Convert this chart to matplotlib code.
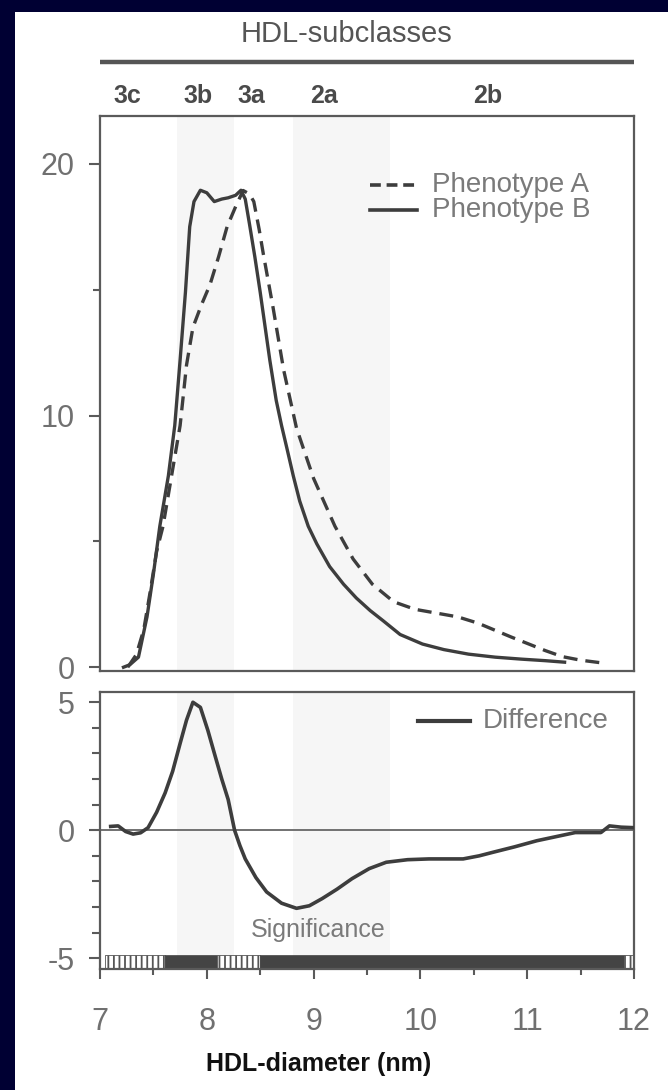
import numpy as np
import matplotlib
matplotlib.use("Agg")
import matplotlib.pyplot as plt
from matplotlib.patches import Rectangle
import matplotlib.transforms as mtransforms

plt.rcParams['font.family'] = ['Liberation Sans', 'DejaVu Sans']
plt.rcParams['axes.unicode_minus'] = False
plt.rcParams['hatch.linewidth'] = 1.3

# HDL size distribution, phenotype A (dashed) and B (solid)
pheno_a_x = [7.26, 7.34, 7.41, 7.47, 7.53, 7.59, 7.67, 7.75, 7.81, 7.87, 7.95, 8.03,
             8.11, 8.19, 8.27, 8.34, 8.40, 8.44, 8.49, 8.53, 8.62, 8.72, 8.84, 9.00,
             9.20, 9.37, 9.55, 9.75, 9.95, 10.15, 10.35, 10.54, 10.85, 11.17, 11.33,
             11.50, 11.74]
pheno_a_y = [0.0, 0.5, 1.5, 3.0, 4.6, 5.6, 7.6, 9.6, 12.0, 13.5, 14.4, 15.2,
             16.3, 17.5, 18.3, 18.94, 18.8, 18.5, 17.4, 16.4, 14.3, 11.8, 9.5, 7.5,
             5.6, 4.3, 3.3, 2.6, 2.3, 2.15, 2.0, 1.75, 1.2, 0.66, 0.42,
             0.28, 0.15]

pheno_b_x = [7.22, 7.28, 7.36, 7.44, 7.50, 7.56, 7.64, 7.70, 7.75, 7.80, 7.84, 7.88,
             7.94, 8.00, 8.07, 8.14, 8.20, 8.27, 8.32, 8.36, 8.40, 8.45, 8.50, 8.55,
             8.59, 8.65, 8.70, 8.75, 8.81, 8.87, 8.95, 9.03, 9.15, 9.28, 9.40, 9.53,
             9.65, 9.81, 10.02, 10.22, 10.45, 10.70, 10.95, 11.17, 11.35]
pheno_b_y = [0.0, 0.1, 0.4, 2.0, 3.7, 5.6, 7.6, 9.6, 12.2, 14.9, 17.5, 18.5,
             18.95, 18.85, 18.5, 18.6, 18.65, 18.75, 18.95, 18.6, 17.6, 16.3, 14.9, 13.4,
             12.2, 10.6, 9.6, 8.7, 7.6, 6.6, 5.6, 4.9, 4.0, 3.3, 2.75, 2.25,
             1.85, 1.3, 0.92, 0.7, 0.52, 0.4, 0.32, 0.26, 0.2]

# difference curve
diff_x = [7.10, 7.17, 7.24, 7.31, 7.38, 7.45, 7.53, 7.61, 7.68, 7.75, 7.81, 7.87,
          7.94, 8.01, 8.08, 8.14, 8.20, 8.26, 8.31, 8.36, 8.46, 8.56, 8.70, 8.84,
          8.96, 9.08, 9.22, 9.36, 9.52, 9.68, 9.88, 10.08, 10.24, 10.40, 10.55,
          10.68, 10.88, 11.09, 11.27, 11.45, 11.60, 11.69, 11.77, 11.88, 12.0]
diff_y = [0.15, 0.17, -0.05, -0.15, -0.1, 0.1, 0.7, 1.46, 2.3, 3.39, 4.3, 5.0,
          4.8, 3.9, 2.87, 2.0, 1.2, 0.0, -0.6, -1.12, -1.85, -2.41, -2.85, -3.05,
          -2.95, -2.67, -2.3, -1.89, -1.5, -1.25, -1.15, -1.12, -1.12, -1.12, -1.0,
          -0.86, -0.65, -0.41, -0.25, -0.09, -0.09, -0.09, 0.17, 0.12, 0.1]

# significance bar segments
sig_start = [7.05, 7.61, 8.10, 8.50, 11.91]
sig_end = [7.61, 8.10, 8.50, 11.91, 12.0]
sig_flag = [False, True, False, True, False]

# HDL subclass labels and shaded bands
subclass_names = ['3c', '3b', '3a', '2a', '2b']
subclass_pos = [7.26, 7.92, 8.42, 9.10, 10.63]
band_start = [7.72, 8.81]
band_end = [8.25, 9.72]

NAVY = '#000033'
LINE = '#3d3d3d'
SPINE = '#5a5a5a'
TICKTXT = '#707070'
LEGTXT = '#7a7a7a'

fig = plt.figure(figsize=(6.68, 10.90), dpi=100, facecolor=NAVY)
fig.patches.append(Rectangle((15/668, 0), 1 - 15/668, 1 - 12/1090,
                             transform=fig.transFigure, facecolor='white',
                             edgecolor='none', zorder=-10))

ax1 = fig.add_axes([100/668, 1 - 671/1090, 534/668, 555/1090])
ax2 = fig.add_axes([100/668, 1 - 969/1090, 534/668, 277/1090])

for ax in (ax1, ax2):
    ax.set_facecolor('none')
    ax.set_xlim(7, 12)
    for s in ax.spines.values():
        s.set_color(SPINE)
        s.set_linewidth(1.6)
    for b0, b1 in zip(band_start, band_end):
        ax.axvspan(b0, b1, color='#f6f6f6', lw=0, zorder=0)

# top panel
ax1.set_ylim(-0.15, 21.9)
ax1.plot(pheno_a_x, pheno_a_y, color=LINE, lw=2.4, dashes=(4.2, 2.4))
ax1.plot(pheno_b_x, pheno_b_y, color=LINE, lw=2.4)
ax1.set_yticks([0, 10, 20])
ax1.set_yticks([5, 15], minor=True)
ax1.set_xticks([])
ax1.tick_params(axis='y', which='major', direction='out', length=8, width=1.5,
                color=SPINE, labelsize=22, labelcolor=TICKTXT, pad=10)
ax1.tick_params(axis='y', which='minor', direction='out', length=5, width=1.5, color=SPINE)

# legend of top panel
ax1.plot([0.506, 0.594], [0.876, 0.876], transform=ax1.transAxes, color=LINE, lw=2.6,
         dashes=(3.0, 1.6))
ax1.plot([0.506, 0.594], [0.831, 0.831], transform=ax1.transAxes, color=LINE, lw=2.6)
ax1.text(0.622, 0.876, 'Phenotype A', transform=ax1.transAxes, va='center',
         fontsize=20, color=LEGTXT)
ax1.text(0.622, 0.831, 'Phenotype B', transform=ax1.transAxes, va='center',
         fontsize=20, color=LEGTXT)

# subclass header above top panel
ax1.plot([0, 1], [1.097, 1.097], transform=ax1.transAxes, color='#555555', lw=3.2,
         clip_on=False, solid_capstyle='butt')
ax1.text(0.462, 1.147, 'HDL-subclasses', transform=ax1.transAxes, ha='center',
         va='center', fontsize=21, color='#555555')
trans = mtransforms.blended_transform_factory(ax1.transData, ax1.transAxes)
for name, pos in zip(subclass_names, subclass_pos):
    ax1.text(pos, 1.036, name, transform=trans, ha='center', va='center',
             fontsize=18, fontweight='bold', color='#4a4a4a')

# bottom panel
ax2.set_ylim(-5.42, 5.4)
ax2.axhline(0, color='#666666', lw=1.3, zorder=1)
ax2.plot(diff_x, diff_y, color=LINE, lw=2.6, zorder=3)
for s0, s1, f in zip(sig_start, sig_end, sig_flag):
    if f:
        ax2.broken_barh([(s0, s1 - s0)], (-5.38, 0.5), facecolor='#444444',
                        edgecolor='#444444', lw=0.5, zorder=2)
    else:
        ax2.broken_barh([(s0, s1 - s0)], (-5.38, 0.5), facecolor='white',
                        edgecolor='#555555', hatch='|||', lw=0.6, zorder=2)
ax2.text(9.04, -3.88, 'Significance', ha='center', va='center', fontsize=18,
         color=LEGTXT)
ax2.plot([0.596, 0.693], [0.896, 0.896], transform=ax2.transAxes, color=LINE, lw=3.0)
ax2.text(0.717, 0.896, 'Difference', transform=ax2.transAxes, va='center',
         fontsize=20, color=LEGTXT)

ax2.set_yticks([-5, 0, 5])
ax2.set_yticks(np.arange(-5, 6, 1), minor=True)
ax2.set_xticks([7, 8, 9, 10, 11, 12])
ax2.set_xticks(np.arange(7.5, 12, 1), minor=True)
ax2.tick_params(axis='y', which='major', direction='out', length=8, width=1.5,
                color=SPINE, labelsize=22, labelcolor=TICKTXT, pad=10)
ax2.tick_params(axis='y', which='minor', direction='out', length=6, width=1.5, color=SPINE)
ax2.tick_params(axis='x', which='major', direction='out', length=7, width=1.5,
                color=SPINE, labelsize=22, labelcolor=TICKTXT, pad=20)
ax2.tick_params(axis='x', which='minor', direction='out', length=4, width=1.5, color=SPINE)
ax2.set_xlabel('HDL-diameter (nm)', fontsize=18, fontweight='bold', color='#111111')
ax2.xaxis.set_label_coords(0.41, -0.30)

fig.savefig('out.png', dpi=100, facecolor=NAVY)
